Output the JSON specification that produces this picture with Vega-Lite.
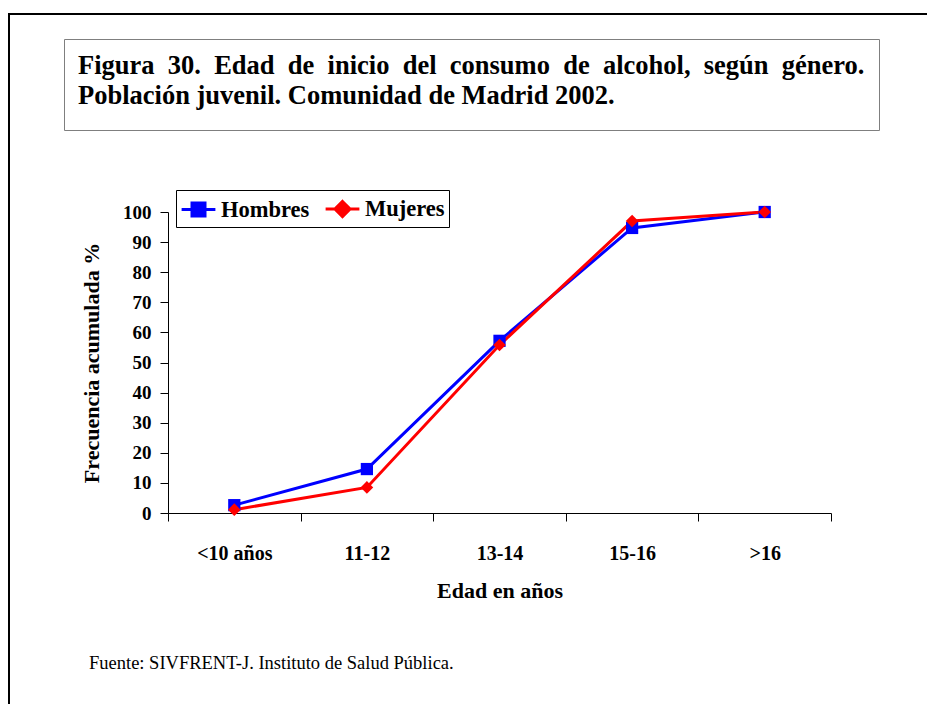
{
  "$schema": "https://vega.github.io/schema/vega-lite/v6.json",
  "width": 921,
  "height": 693,
  "autosize": {"type": "none"},
  "padding": {"left": 9, "top": 14, "right": -3, "bottom": -3},
  "background": "white",
  "view": {"stroke": "black", "strokeWidth": 2, "fill": "white"},
  "config": {"font": "Liberation Serif"},
  "title": {
    "text": "Fuente: SIVFRENT-J. Instituto de Salud Pública.",
    "orient": "bottom",
    "anchor": "start",
    "frame": "group",
    "offset": -38,
    "dx": 80,
    "baseline": "alphabetic",
    "font": "Liberation Serif",
    "fontSize": 18.5,
    "fontWeight": "normal",
    "color": "black"
  },
  "data": {
    "values": [
      {"edad": "<10 años", "serie": "Hombres", "pct": 2.6},
      {"edad": "11-12", "serie": "Hombres", "pct": 14.6},
      {"edad": "13-14", "serie": "Hombres", "pct": 57.2},
      {"edad": "15-16", "serie": "Hombres", "pct": 94.7},
      {"edad": ">16", "serie": "Hombres", "pct": 100},
      {"edad": "<10 años", "serie": "Mujeres", "pct": 1.1},
      {"edad": "11-12", "serie": "Mujeres", "pct": 8.5},
      {"edad": "13-14", "serie": "Mujeres", "pct": 55.8},
      {"edad": "15-16", "serie": "Mujeres", "pct": 97},
      {"edad": ">16", "serie": "Mujeres", "pct": 100}
    ]
  },
  "encoding": {
    "x": {
      "field": "edad",
      "type": "ordinal",
      "sort": ["<10 años", "11-12", "13-14", "15-16", ">16"],
      "scale": {"type": "band", "range": [159, 822], "paddingInner": 0, "paddingOuter": 0},
      "axis": {
        "orient": "bottom",
        "offset": -194,
        "title": "Edad en años",
        "tickBand": "extent",
        "tickSize": 8,
        "tickColor": "black",
        "domainColor": "black",
        "labelAngle": 0,
        "labelPadding": 22,
        "labelFont": "Liberation Serif",
        "labelFontSize": 20,
        "labelFontWeight": "bold",
        "labelColor": "black",
        "titleFont": "Liberation Serif",
        "titleFontSize": 22,
        "titleFontWeight": "bold",
        "titleColor": "black",
        "titlePadding": 17,
        "grid": false
      }
    },
    "y": {
      "field": "pct",
      "type": "quantitative",
      "scale": {"domain": [0, 100], "range": [499, 198], "nice": false},
      "axis": {
        "orient": "left",
        "offset": -159,
        "values": [0, 10, 20, 30, 40, 50, 60, 70, 80, 90, 100],
        "title": "Frecuencia acumulada %",
        "tickSize": 8,
        "tickColor": "black",
        "domainColor": "black",
        "labelPadding": 9,
        "labelFont": "Liberation Serif",
        "labelFontSize": 19,
        "labelFontWeight": "bold",
        "labelColor": "black",
        "titleFont": "Liberation Serif",
        "titleFontSize": 22,
        "titleFontWeight": "bold",
        "titleColor": "black",
        "titlePadding": 19,
        "grid": false
      }
    },
    "color": {
      "field": "serie",
      "type": "nominal",
      "scale": {"domain": ["Hombres", "Mujeres"], "range": ["#0000ff", "#ff0000"]},
      "legend": {
        "orient": "none",
        "legendX": 167,
        "legendY": 176,
        "direction": "horizontal",
        "title": null,
        "padding": 4,
        "strokeColor": "black",
        "fillColor": "white",
        "symbolSize": 676,
        "symbolOffset": 4,
        "symbolStrokeWidth": 3,
        "labelOffset": 8,
        "columnPadding": 9,
        "labelFont": "Liberation Serif",
        "labelFontSize": 22.5,
        "labelFontWeight": "bold",
        "labelColor": "black",
        "labelLimit": 300,
        "encode": {
          "symbols": {
            "update": {
              "shape": {"signal": "datum.value === 'Hombres' ? 'M-1.3,0H1.3M-0.5,-0.5H0.5V0.5H-0.5Z' : 'M-1.3,0H1.3M0,-0.58L0.58,0L0,0.58L-0.58,0Z'"},
              "fill": {"signal": "datum.value === 'Hombres' ? '#0000ff' : '#ff0000'"},
              "stroke": {"signal": "datum.value === 'Hombres' ? '#0000ff' : '#ff0000'"},
              "strokeWidth": {"value": 3},
              "opacity": {"value": 1},
              "fillOpacity": {"value": 1},
              "strokeOpacity": {"value": 1}
            }
          }
        }
      }
    }
  },
  "layer": [
    {
      "mark": {"type": "line", "strokeWidth": 3, "clip": false},
      "encoding": {
        "opacity": {
          "datum": "figura",
          "type": "nominal",
          "scale": {"range": [1, 1]},
          "legend": {
            "orient": "none",
            "legendX": 55,
            "legendY": 25,
            "title": ["Figura\u00a0 30.\u00a0 Edad\u00a0 de\u00a0 inicio\u00a0 del\u00a0 consumo\u00a0 de\u00a0 alcohol,\u00a0 según\u00a0 género.", "Población juvenil. Comunidad de Madrid 2002."],
            "titleFont": "Liberation Serif",
            "titleFontSize": 26.5,
            "titleFontWeight": "bold",
            "titleColor": "black",
            "titleLimit": 1000,
            "titleLineHeight": 30,
            "titleAlign": "left",
            "titlePadding": 6,
            "padding": 14,
            "strokeColor": "#7f7f7f",
            "fillColor": "white",
            "symbolOpacity": 0,
            "symbolSize": 1,
            "symbolStrokeWidth": 0,
            "symbolFillColor": "white",
            "symbolStrokeColor": "white",
            "labelOpacity": 0,
            "labelColor": "white",
            "labelFontSize": 1
          }
        }
      }
    },
    {
      "transform": [{"filter": {"field": "serie", "equal": "Hombres"}}],
      "mark": {"type": "point", "shape": "square", "filled": true, "opacity": 1, "size": 150, "clip": false}
    },
    {
      "transform": [{"filter": {"field": "serie", "equal": "Mujeres"}}],
      "mark": {"type": "point", "shape": "diamond", "filled": true, "opacity": 1, "size": 160, "clip": false}
    }
  ]
}
